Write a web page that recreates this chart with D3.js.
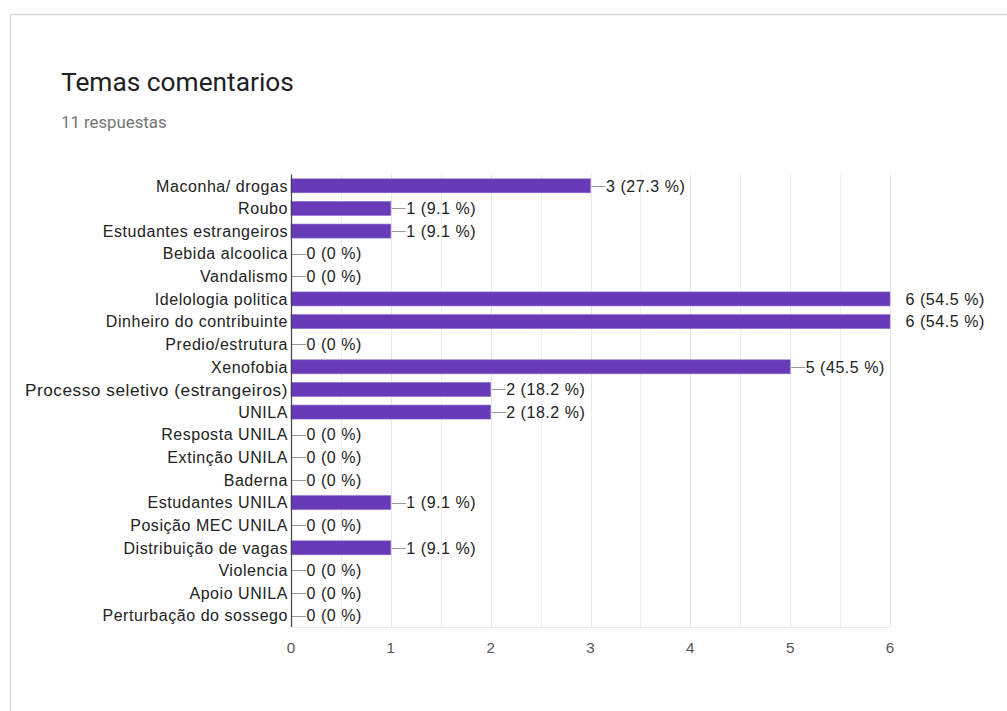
<!DOCTYPE html>
<html>
<head>
<meta charset="utf-8">
<script src="https://cdn.jsdelivr.net/npm/d3@7"></script>
<style>
  html, body { margin: 0; padding: 0; background: #fff; }
  svg { display: block; }
</style>
</head>
<body>
<svg id="chart" width="1007" height="711"></svg>
<script>
// Survey question results: topics mentioned in comments (11 responses)
const categories = [
  "Maconha/ drogas", "Roubo", "Estudantes estrangeiros", "Bebida alcoolica",
  "Vandalismo", "Idelologia politica", "Dinheiro do contribuinte",
  "Predio/estrutura", "Xenofobia", "Processo seletivo (estrangeiros)", "UNILA",
  "Resposta UNILA", "Extinção UNILA", "Baderna", "Estudantes UNILA",
  "Posição MEC UNILA", "Distribuição de vagas", "Violencia", "Apoio UNILA",
  "Perturbação do sossego"
];
const counts = [3, 1, 1, 0, 0, 6, 6, 0, 5, 2, 2, 0, 0, 0, 1, 0, 1, 0, 0, 0];
const totalResponses = 11;
const xTicks = [0, 1, 2, 3, 4, 5, 6];
const title = "Temas comentarios";
const subtitle = totalResponses + " respuestas";

const svg = d3.select("#chart");
const font = "'Liberation Sans', Arial, Helvetica, sans-serif";
const labelSize = 16;
const labelSpacing = 0.55;

// Card outline
svg.append("rect")
  .attr("x", 10.5).attr("y", 14.5)
  .attr("width", 1100).attr("height", 800)
  .attr("fill", "#fff")
  .attr("stroke", "#dadada").attr("stroke-width", 1.5);

svg.append("text")
  .attr("x", 61).attr("y", 91)
  .attr("font-family", "Roboto, 'Noto Sans', sans-serif")
  .attr("font-size", 26.3).attr("fill", "#202124")
  .text(title);

svg.append("text")
  .attr("x", 61).attr("y", 128)
  .attr("font-family", "Roboto, 'Noto Sans', sans-serif")
  .attr("font-size", 16.8).attr("fill", "#757575")
  .text(subtitle);

const plot = { left: 291, right: 890, top: 174.5, bottom: 627 };

const x = d3.scaleLinear().domain([0, 6]).range([plot.left, plot.right]);
const y = d3.scaleBand().domain(categories).range([plot.top, plot.bottom]).paddingInner(0.4).paddingOuter(0.2);

// Gridlines every half unit
const gridVals = d3.range(0.5, 6.01, 0.5);
svg.append("g").selectAll("line").data(gridVals).join("line")
  .attr("x1", d => Math.round(x(d)) + 0.5).attr("x2", d => Math.round(x(d)) + 0.5)
  .attr("y1", plot.top).attr("y2", plot.bottom)
  .attr("stroke", d => Number.isInteger(d) ? "#e6e6e6" : "#efefef").attr("stroke-width", 1);

svg.append("line")
  .attr("x1", plot.left).attr("x2", plot.right)
  .attr("y1", plot.bottom + 0.5).attr("y2", plot.bottom + 0.5)
  .attr("stroke", "#ebebeb");

// Bars
svg.append("g").selectAll("rect").data(categories).join("rect")
  .attr("x", x(0))
  .attr("y", d => y(d) + (y.bandwidth() - 14) / 2)
  .attr("width", (d, i) => x(counts[i]) - x(0))
  .attr("height", 14)
  .attr("fill", "#673ab7")
  .attr("stroke", "#8e6bd0").attr("stroke-width", 0.6);

// Left axis
svg.append("line")
  .attr("x1", plot.left + 0.5).attr("x2", plot.left + 0.5)
  .attr("y1", plot.top).attr("y2", plot.bottom)
  .attr("stroke", "#444").attr("stroke-width", 1.2);

// Category labels
svg.append("g").selectAll("text").data(categories).join("text")
  .attr("x", plot.left - 3)
  .attr("y", d => y(d) + y.bandwidth() / 2)
  .attr("dy", "0.36em")
  .attr("text-anchor", "end")
  .attr("font-family", font)
  .attr("font-size", d => d.length > 28 ? 17.2 : labelSize)
  .attr("letter-spacing", labelSpacing)
  .attr("fill", "#222")
  .text(d => d);

// Value annotations with leader lines
const fmtPct = v => {
  const p = +(v / totalResponses * 100).toFixed(1);
  return v + " (" + p + " %)";
};
const ann = svg.append("g");
categories.forEach((c, i) => {
  const v = counts[i];
  const cy = y(c) + y.bandwidth() / 2;
  const xe = x(v);
  const outside = xe >= plot.right;
  if (!outside) {
    ann.append("line")
      .attr("x1", xe + 1).attr("x2", xe + 15)
      .attr("y1", Math.round(cy) + 0.5).attr("y2", Math.round(cy) + 0.5)
      .attr("stroke", "#999").attr("stroke-width", 1);
  }
  ann.append("text")
    .attr("x", xe + 15.5)
    .attr("y", cy).attr("dy", "0.36em")
    .attr("font-family", font).attr("font-size", labelSize)
    .attr("letter-spacing", labelSpacing)
    .attr("fill", "#222")
    .text(fmtPct(v));
});

// Bottom tick labels
svg.append("g").selectAll("text").data(xTicks).join("text")
  .attr("x", d => x(d))
  .attr("y", 652.5)
  .attr("text-anchor", "middle")
  .attr("font-family", font).attr("font-size", 15.2)
  .attr("fill", "#555")
  .text(d => d);
</script>
</body>
</html>
